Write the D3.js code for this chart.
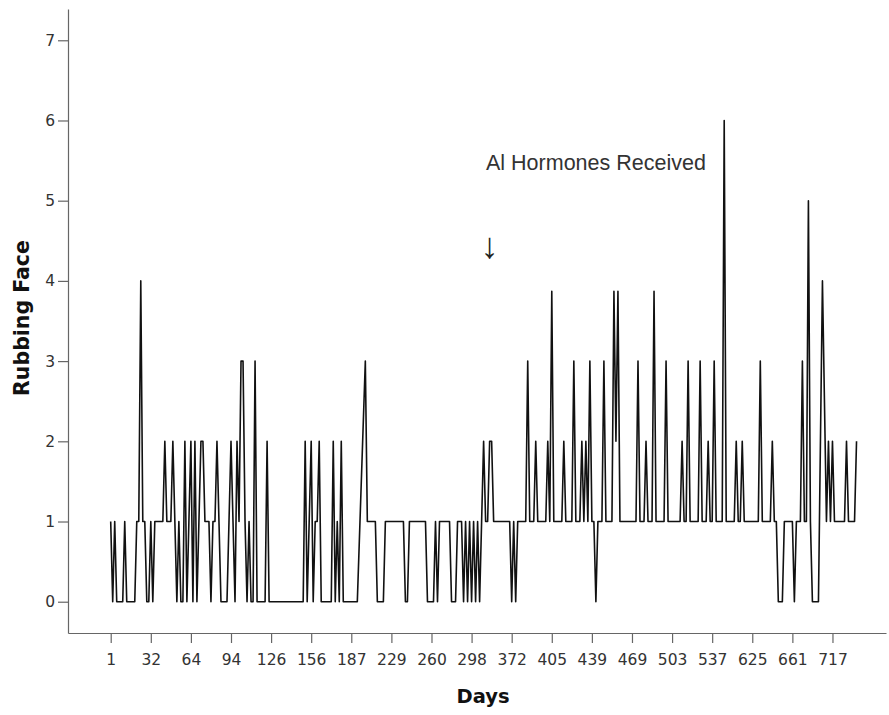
<!DOCTYPE html>
<html><head><meta charset="utf-8">
<script src="https://cdn.jsdelivr.net/npm/d3@7"></script>
<style>body{margin:0;background:#fff}</style>
</head><body>
<svg id="chart" width="889" height="715"></svg>
<script>
// Rubbing Face per observation (null = missing observation, line bridges it)
const rubbingFace = [
  1,0,1,0,0,0,0,1,0,0,
  0,0,0,1,1,4,1,1,0,0,
  1,0,1,1,1,1,1,2,1,1,
  1,2,1,0,1,0,0,2,0,1,
  2,0,2,0,1,2,2,1,1,1,
  0,1,1,2,1,0,0,0,0,1,
  2,1,0,2,1,3,3,1,0,1,
  0,0,3,0,0,0,0,0,2,0,
  0,0,0,0,0,0,0,0,0,0,
  0,0,0,0,0,0,0,2,0,1,
  2,0,1,1,2,0,0,0,0,0,
  0,2,0,1,0,2,0,0,0,0,
  0,0,0,0,null,null,null,3,1,1,
  1,1,1,0,0,0,0,1,1,1,
  1,1,1,1,1,1,1,0,0,1,
  1,1,1,1,1,1,1,1,0,0,
  0,0,1,0,1,1,1,1,1,1,
  0,0,0,1,1,1,0,1,0,1,
  0,1,0,1,0,1,2,1,1,2,
  2,1,1,1,1,1,1,1,1,1,
  0,1,0,1,1,1,1,1,3,1,
  1,1,2,1,1,1,1,1,2,1,
  3.87,1,1,1,1,1,2,1,1,1,
  1,3,1,1,1,2,1,2,1,3,
  1,1,0,1,1,1,3,1,1,1,
  1,3.87,2,3.87,1,1,1,1,1,1,
  1,1,1,3,1,1,1,2,1,1,
  1,3.87,1,1,1,1,1,3,1,1,
  1,1,1,1,1,2,1,1,3,1,
  1,1,1,1,3,1,1,1,2,1,
  1,3,1,1,1,1,6,1,1,1,
  1,1,2,1,1,2,1,1,1,1,
  1,1,1,1,3,1,1,1,1,1,
  2,1,1,0,0,0,1,1,1,1,
  1,0,1,1,1,3,1,1,5,1,
  0,0,0,0,null,4,null,1,2,1,
  2,1,1,1,1,1,1,2,1,1,
  1,1,2
];
// Day labels shown on the category axis (every 20th observation)
const dayLabels = ["1","32","64","94","126","156","187","229","260","298","372","405","439","469","503","537","625","661","717"];
const labelEvery = 20;
const yTicks = [0,1,2,3,4,5,6,7];
const yTitle = "Rubbing Face";
const xTitle = "Days";
const annotationText = "Al Hormones Received";
const arrowText = "\u2193";
const annotationIndex = 189; // observation where hormones were received

const svg = d3.select("#chart");
svg.append("rect").attr("width", 889).attr("height", 715).attr("fill", "#fff");

const x = d3.scaleLinear().domain([-21.3, 386.7]).range([68, 886]);
const y = d3.scaleLinear().domain([-0.39, 7.39]).range([633, 9]);

const axisColor = "#666";
const labelFont = "'DejaVu Sans', Verdana, sans-serif";

// Y axis
const gy = svg.append("g").attr("transform", "translate(68,0)")
  .call(d3.axisLeft(y).tickValues(yTicks).tickSize(10).tickSizeOuter(0).tickPadding(3).tickFormat(d3.format("d")));
gy.select(".domain").attr("stroke", axisColor).attr("stroke-width", 1.2);
gy.selectAll(".tick line").attr("stroke", axisColor).attr("stroke-width", 1.2);
gy.selectAll(".tick text").attr("font-family", labelFont).attr("font-size", 15.5).attr("fill", "#333");

// X axis
const xTickVals = dayLabels.map((d, i) => i * labelEvery);
const gx = svg.append("g").attr("transform", "translate(0,633)")
  .call(d3.axisBottom(x).tickValues(xTickVals).tickSize(10).tickSizeOuter(0).tickPadding(11)
    .tickFormat((d, i) => dayLabels[i]));
gx.select(".domain").attr("stroke", axisColor).attr("stroke-width", 1.2);
gx.selectAll(".tick line").attr("stroke", axisColor).attr("stroke-width", 1.2);
gx.selectAll(".tick text").attr("font-family", labelFont).attr("font-size", 15.5).attr("fill", "#333");

// Line
const pts = rubbingFace.map((v, i) => ({i, v})).filter(d => d.v !== null);
const line = d3.line().x(d => x(d.i)).y(d => y(d.v));
svg.append("path").datum(pts).attr("d", line)
  .attr("fill", "none").attr("stroke", "#111").attr("stroke-width", 1.6)
  .attr("stroke-linejoin", "round");

// Titles
svg.append("text").attr("transform", "translate(29,318) rotate(-90)")
  .attr("text-anchor", "middle").attr("font-family", labelFont).attr("font-weight", "bold")
  .attr("font-size", 20.5).attr("fill", "#111").text(yTitle);
svg.append("text").attr("x", 483).attr("y", 703)
  .attr("text-anchor", "middle").attr("font-family", labelFont).attr("font-weight", "bold")
  .attr("font-size", 19.5).attr("fill", "#111").text(xTitle);

// Annotation
svg.append("text").attr("x", 486).attr("y", 169.5)
  .attr("font-family", "'Liberation Sans', Arial, sans-serif").attr("font-size", 21.5)
  .attr("fill", "#333").text(annotationText);
svg.append("text").attr("x", x(annotationIndex)).attr("y", 258)
  .attr("text-anchor", "middle")
  .attr("font-family", "'Liberation Sans', Arial, sans-serif").attr("font-size", 36)
  .attr("fill", "#222").text(arrowText);
</script>
</body></html>
